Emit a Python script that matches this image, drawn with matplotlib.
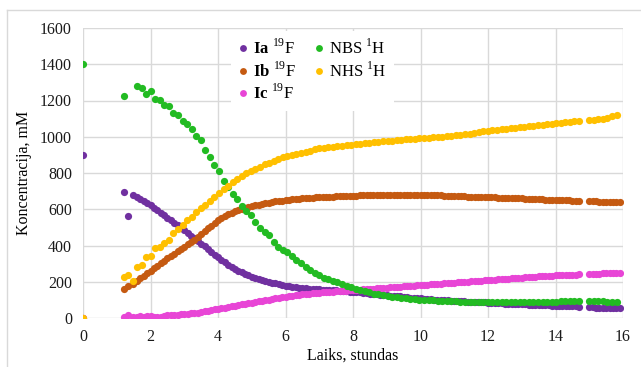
"""
plot.py
-------
Koncentrācijas izmaiņas laikā (19F un 1H NMR dati).
"""
import numpy as np
import matplotlib
matplotlib.use("Agg")
import matplotlib.pyplot as plt
from matplotlib.lines import Line2D


# === Data ===
# first points (t = 0 and the three early scans), same for all series
early_t = [0.0, 1.2, 1.34, 1.47]

# 19F series: main block starts 1.6 h, step 0.1 h; late block starts 15.0 h
f19_main_start, f19_step = 1.6, 0.1
f19_late_start = 15.0

ia_early = [900, 697, 564, 680]
ia_main = [
    668, 657, 645, 634, 622, 608, 594, 580, 566, 552,
    538, 525, 511, 498, 484, 469, 454, 440, 425, 410,
    395, 380, 365, 350, 335, 321, 308, 295, 283, 272,
    262, 253, 244, 236, 228, 222, 216, 210, 205, 200,
    195, 191, 187, 182, 178, 175, 172, 170, 167, 165,
    164, 162, 161, 159, 158, 157, 155, 154, 153, 152,
    150, 149, 148, 146, 145, 143, 141, 139, 137, 135,
    133, 131, 129, 128, 126, 124, 122, 120, 119, 117,
    115, 113, 111, 110, 108, 107, 105, 104, 102, 101,
    100, 98, 97, 96, 95, 94, 93, 92, 91, 90,
    89, 88, 87, 86, 85, 84, 83, 82, 81, 80,
    79, 78, 78, 77, 76, 75, 74, 73, 72, 71,
    70, 70, 69, 68, 67, 66, 66, 65, 65, 64,
    64, 63,
]
ia_late = [58, 58, 57, 57, 56, 56, 55, 55, 54, 54]

ib_early = [0, 158, 175, 190]
ib_main = [
    205, 219, 233, 248, 262, 276, 289, 303, 316, 330,
    342, 355, 368, 380, 393, 406, 420, 433, 447, 462,
    478, 494, 510, 526, 540, 553, 564, 573, 582, 590,
    596, 602, 608, 613, 618, 622, 626, 630, 634, 637,
    640, 643, 646, 648, 651, 653, 655, 657, 659, 661,
    662, 663, 664, 666, 667, 668, 669, 669, 670, 671,
    672, 673, 673, 674, 675, 675, 676, 677, 677, 678,
    678, 678, 679, 679, 679, 680, 680, 680, 680, 680,
    680, 680, 679, 679, 679, 678, 678, 677, 677, 676,
    676, 675, 674, 674, 673, 672, 672, 671, 670, 670,
    669, 668, 668, 667, 666, 666, 665, 664, 664, 663,
    663, 662, 661, 661, 660, 659, 658, 657, 656, 655,
    654, 653, 652, 652, 651, 650, 650, 649, 649, 648,
    648, 647,
]
ib_late = [643, 643, 643, 642, 642, 642, 641, 641, 641, 641]

ic_early = [0, 3, 18, 8]
ic_main = [
    8, 10, 7, 9, 10, 8, 5, 7, 12, 14,
    15, 16, 18, 20, 22, 24, 25, 27, 30, 33,
    36, 40, 43, 47, 50, 54, 57, 61, 64, 68,
    71, 75, 78, 82, 85, 88, 92, 95, 98, 101,
    105, 108, 111, 115, 118, 120, 123, 125, 128, 130,
    132, 134, 136, 138, 140, 141, 143, 144, 146, 147,
    149, 150, 151, 153, 154, 155, 157, 158, 160, 161,
    162, 164, 165, 167, 168, 169, 171, 172, 173, 175,
    176, 177, 179, 180, 181, 183, 184, 185, 187, 188,
    189, 191, 192, 194, 195, 196, 198, 199, 201, 202,
    203, 205, 206, 208, 209, 210, 212, 213, 215, 216,
    217, 219, 220, 222, 223, 224, 225, 227, 228, 229,
    230, 231, 233, 234, 235, 236, 237, 238, 239, 240,
    240, 241,
]
ic_late = [243, 244, 244, 245, 246, 246, 247, 248, 249, 250]

# 1H series: main block starts 1.6 h, step 0.135 h; late block starts 15.0 h
h1_main_start, h1_step = 1.6, 0.135
h1_late_start = 15.0

nbs_early = [1400, 1225, np.nan, np.nan]
nbs_main = [
    1282, 1269, 1234, 1252, 1210, 1204, 1175, 1170, 1129, 1118,
    1085, 1070, 1044, 1004, 982, 927, 890, 844, 811, 758,
    722, 684, 655, 618, 592, 570, 528, 495, 477, 458,
    421, 393, 375, 362, 342, 320, 302, 280, 265, 250,
    237, 222, 213, 204, 196, 187, 179, 170, 162, 155,
    148, 141, 135, 130, 125, 120, 117, 114, 111, 108,
    105, 103, 101, 99, 98, 97, 96, 95, 94, 93,
    92, 91, 90, 89, 88, 87, 87, 86, 86, 86,
    86, 86, 86, 87, 87, 88, 88, 89, 89, 90,
    90, 91, 91, 92, 92, 92, 93, 93,
]
nbs_late = [92, 92, 92, 92, 91, 91, 91]

nhs_early = [0, 224, 237, 204]
nhs_main = [
    283, 292, 338, 342, 385, 394, 412, 430, 467, 489,
    513, 541, 559, 583, 605, 623, 647, 669, 688, 710,
    730, 750, 768, 784, 798, 810, 822, 835, 847, 857,
    867, 877, 886, 893, 900, 907, 913, 918, 924, 930,
    936, 940, 943, 946, 948, 950, 953, 956, 959, 962,
    965, 968, 970, 972, 975, 977, 979, 981, 983, 985,
    987, 989, 991, 993, 995, 997, 999, 1001, 1003, 1005,
    1007, 1010, 1013, 1017, 1022, 1027, 1031, 1034, 1037, 1040,
    1042, 1045, 1047, 1050, 1053, 1056, 1058, 1061, 1063, 1066,
    1069, 1071, 1074, 1077, 1080, 1083, 1086, 1089,
]
nhs_late = [1092, 1094, 1097, 1100, 1104, 1112, 1120]

labels = [
    r"$\mathbf{Ia}$ $^{19}$F",
    r"$\mathbf{Ib}$ $^{19}$F",
    r"$\mathbf{Ic}$ $^{19}$F",
    r"NBS $^{1}$H",
    r"NHS $^{1}$H",
]
colors = ["#7030A0", "#C55A11", "#E845D6", "#22BB22", "#FFC000"]

x_ticks = list(range(0, 17, 2))
y_ticks = list(range(0, 1601, 200))


# === Helpers ===
def build_series(early, main, late, start, step, late_start):
    """Join the three measurement blocks into time and value arrays."""
    t = np.concatenate([
        early_t,
        start + step * np.arange(len(main)),
        late_start + step * np.arange(len(late)),
    ])
    v = np.array(list(early) + list(main) + list(late), dtype=float)
    return t, v


def draw(ax, series):
    for (t, v), color, label in zip(series, colors, labels):
        ax.plot(t, v, "o", ms=5.2, color=color, mec="none", label=label)


# === Figure ===
plt.rcParams["font.family"] = ["Liberation Serif", "DejaVu Serif"]
plt.rcParams["mathtext.fontset"] = "custom"
plt.rcParams["mathtext.rm"] = "Liberation Serif"
plt.rcParams["mathtext.bf"] = "Liberation Serif:bold"

series = [
    build_series(ia_early, ia_main, ia_late, f19_main_start, f19_step, f19_late_start),
    build_series(ib_early, ib_main, ib_late, f19_main_start, f19_step, f19_late_start),
    build_series(ic_early, ic_main, ic_late, f19_main_start, f19_step, f19_late_start),
    build_series(nbs_early, nbs_main, nbs_late, h1_main_start, h1_step, h1_late_start),
    build_series(nhs_early, nhs_main, nhs_late, h1_main_start, h1_step, h1_late_start),
]

fig = plt.figure(figsize=(6.41, 3.67), dpi=100)
ax = fig.add_axes([83 / 641, 1 - 318 / 367, 540 / 641, 290 / 367])

draw(ax, series)

ax.set_xlim(0, 16)
ax.set_ylim(0, 1600)
ax.set_xticks(x_ticks)
ax.set_yticks(y_ticks)
ax.grid(True, color="#D9D9D9", lw=1)
ax.set_axisbelow(True)
for sp in ax.spines.values():
    sp.set_visible(False)
ax.tick_params(length=0, labelsize=11.5, labelcolor="#1a1a1a", pad=8)
ax.set_xlabel("Laiks, stundas", fontsize=11.5, labelpad=2)
ax.set_ylabel("Koncentracija, mM", fontsize=11.5, labelpad=6)

leg = ax.legend(
    ncol=2, loc="upper left", bbox_to_anchor=(0.258, 1.018),
    fontsize=12, frameon=True, facecolor="white", edgecolor="none",
    framealpha=1, fancybox=False, handlelength=0.6, handletextpad=0.3,
    columnspacing=1.1, labelspacing=0.2, borderpad=0.45, markerscale=0.95,
)

# outer chart-area border (cropped at the top and left)
fig.add_artist(Line2D([7 / 641, 1], [1 - 10 / 367, 1 - 10 / 367], color="#D9D9D9", lw=1))
fig.add_artist(Line2D([7 / 641, 7 / 641], [0, 1 - 10 / 367], color="#D9D9D9", lw=1))

fig.savefig("out.png", dpi=100)
